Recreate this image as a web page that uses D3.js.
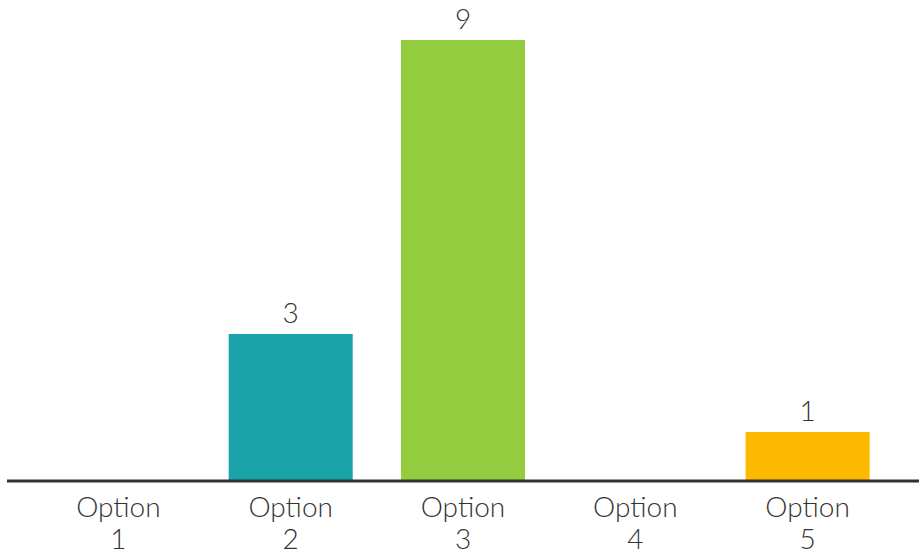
<!DOCTYPE html>
<html><head><meta charset="utf-8">
<script src="https://cdn.jsdelivr.net/npm/d3@7"></script>
<style>body{margin:0;background:#fff;}svg{display:block;}</style>
</head><body>
<svg id="c" width="922" height="555"></svg>
<script>
const categories = ["Option 1","Option 2","Option 3","Option 4","Option 5"];
const values = [0, 3, 9, 0, 1];
const colors = ["#1aa3a8","#1aa3a8","#94cc3f","#94cc3f","#fdb900"];

const svg = d3.select("#c");
const font = "Lato, 'Noto Sans', sans-serif";
const x = d3.scaleBand().domain(categories).range([7, 919]).paddingInner(0.28).paddingOuter(0.2866);
const y = d3.scaleLinear().domain([0, 9]).range([481, 40]);

svg.selectAll("rect.bar").data(categories).enter().append("rect")
  .attr("class","bar")
  .attr("x", d => x(d))
  .attr("width", x.bandwidth())
  .attr("y", (d,i) => y(values[i]))
  .attr("height", (d,i) => y(0) - y(values[i]))
  .attr("fill", (d,i) => colors[i]);

svg.selectAll("text.val").data(categories.filter((d,i)=>values[i]>0)).enter().append("text")
  .attr("class","val")
  .attr("x", d => x(d) + x.bandwidth()/2)
  .attr("y", d => y(values[categories.indexOf(d)]) - 11)
  .attr("text-anchor","middle")
  .attr("font-family", font).attr("font-weight", 300).attr("font-size", 28).attr("fill","#333")
  .text(d => values[categories.indexOf(d)]);

const axis = d3.axisBottom(x).tickSize(0).tickPadding(0);
const g = svg.append("g").attr("transform", `translate(0,${y(0)})`).call(axis);
g.select(".domain").attr("stroke","#2e3236").attr("stroke-width",3).attr("d","M7,0H919");
g.selectAll(".tick text").remove();
g.selectAll(".tick").append("text")
  .attr("text-anchor","middle")
  .attr("font-family", font).attr("font-weight", 300).attr("font-size", 28).attr("fill","#333")
  .each(function(d){
    const parts = d.split(" ");
    const t = d3.select(this);
    t.append("tspan").attr("x",0).attr("y",36).text(parts[0]);
    t.append("tspan").attr("x",0).attr("y",68).text(parts[1]);
  });
</script>
</body></html>
